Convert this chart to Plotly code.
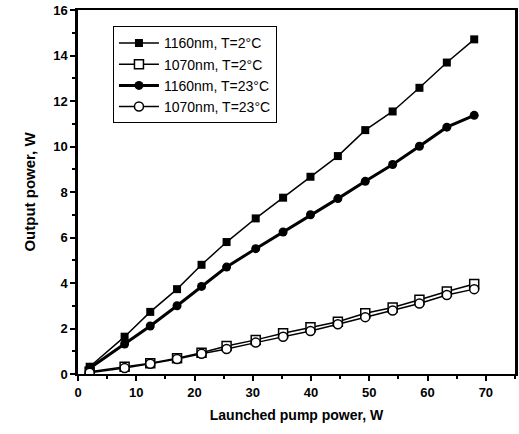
import plotly.graph_objects as go

pump_power = [2.0, 8.0, 12.4, 17.0, 21.2, 25.5, 30.5, 35.2, 39.9, 44.6, 49.3, 54.0, 58.6, 63.3, 68.0]
p1160_T2 = [0.32, 1.64, 2.73, 3.73, 4.80, 5.80, 6.84, 7.75, 8.67, 9.58, 10.72, 11.54, 12.58, 13.69, 14.71]
p1070_T2 = [0.10, 0.32, 0.47, 0.69, 0.93, 1.23, 1.50, 1.79, 2.06, 2.30, 2.67, 2.92, 3.26, 3.63, 3.96]
p1160_T23 = [0.25, 1.32, 2.11, 3.00, 3.85, 4.70, 5.51, 6.24, 7.00, 7.71, 8.47, 9.21, 10.01, 10.85, 11.37]
p1070_T23 = [0.06, 0.26, 0.45, 0.66, 0.89, 1.10, 1.38, 1.64, 1.89, 2.19, 2.50, 2.79, 3.10, 3.47, 3.73]

labels = ["1160nm, T=2°C", "1070nm, T=2°C", "1160nm, T=23°C", "1070nm, T=23°C"]
x_ticks = [0, 10, 20, 30, 40, 50, 60, 70]
y_ticks = [0, 2, 4, 6, 8, 10, 12, 14, 16]

fig = go.Figure()
fig.add_trace(go.Scatter(x=pump_power, y=p1160_T2, name=labels[0], mode="lines+markers",
                         line=dict(color="black", width=1.5),
                         marker=dict(symbol="square", size=8, color="black")))
fig.add_trace(go.Scatter(x=pump_power, y=p1070_T2, name=labels[1], mode="lines+markers",
                         line=dict(color="black", width=1.5),
                         marker=dict(symbol="square", size=9, color="white",
                                     line=dict(color="black", width=1.5))))
fig.add_trace(go.Scatter(x=pump_power, y=p1160_T23, name=labels[2], mode="lines+markers",
                         line=dict(color="black", width=3),
                         marker=dict(symbol="circle", size=9, color="black")))
fig.add_trace(go.Scatter(x=pump_power, y=p1070_T23, name=labels[3], mode="lines+markers",
                         line=dict(color="black", width=1.5),
                         marker=dict(symbol="circle", size=9, color="white",
                                     line=dict(color="black", width=1.5))))

axis_font = dict(family="Liberation Sans, Arial, sans-serif", size=13, color="black")
fig.update_layout(
    width=519, height=434,
    margin=dict(l=78, r=1, t=10, b=60),
    paper_bgcolor="white", plot_bgcolor="white",
    font=dict(family="Liberation Sans, Arial, sans-serif", color="black"),
    showlegend=True,
    legend=dict(x=0.08, y=0.955, xanchor="left", yanchor="top",
                bgcolor="white", bordercolor="black", borderwidth=1,
                font=dict(size=14, family="Liberation Sans, Arial, sans-serif", color="black"),
                tracegroupgap=0, itemwidth=40),
    xaxis=dict(range=[0, 75], tickvals=x_ticks,
               ticktext=["<b>%d</b>" % v for v in x_ticks],
               ticks="outside", ticklen=5, tickwidth=2, tickcolor="black",
               minor=dict(dtick=5, ticks="outside", ticklen=3, tickwidth=1.5, tickcolor="black"),
               showline=True, linecolor="black", linewidth=2, mirror=True,
               showgrid=False, zeroline=False, tickfont=axis_font,
               title=dict(text="<b>Launched pump power, W</b>", font=dict(size=14), standoff=12)),
    yaxis=dict(range=[0, 16], tickvals=y_ticks,
               ticktext=["<b>%d</b>" % v for v in y_ticks],
               ticks="outside", ticklen=5, tickwidth=2, tickcolor="black",
               minor=dict(dtick=1, ticks="outside", ticklen=3, tickwidth=1.5, tickcolor="black"),
               showline=True, linecolor="black", linewidth=2.5, mirror=True,
               showgrid=False, zeroline=False, tickfont=axis_font,
               title=dict(text="<b>Output power, W</b>", font=dict(size=15), standoff=14)),
)

fig.write_html("out.html")
